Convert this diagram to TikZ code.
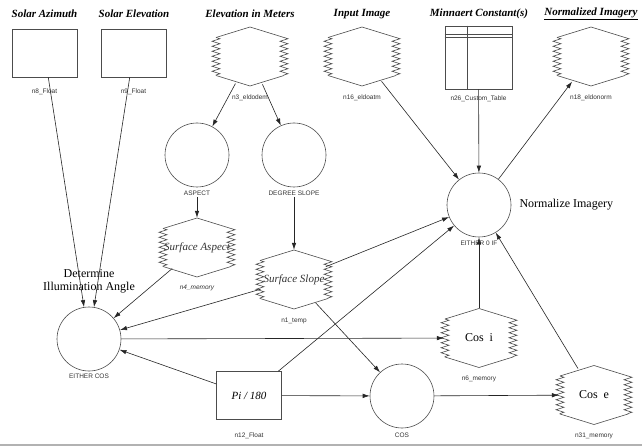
\documentclass[tikz,border=0pt]{standalone}
\usepackage{fontspec}
\setmainfont{Liberation Serif}
\setsansfont{Liberation Sans}
\usepackage{tikz}
\usetikzlibrary{arrows.meta,positioning,calc,shapes.geometric,decorations.pathmorphing}
\newcommand{\memhex}[1]{%
  \begin{scope}[shift={(#1.center)}]
    \draw[outl] (-34,-19) -- (0,-29.5) -- (34,-19);
    \draw[outl] (-34,19) -- (0,29.5) -- (34,19);
    \draw[outl, zz] (-34,-19) -- (-34,19);
    \draw[outl, zz] (34,-19) -- (34,19);
  \end{scope}}
\newcommand{\tabgrid}[1]{%
  \draw[outl] ($(#1.north west)+(0,9)$) -- ($(#1.north east)+(0,9)$);
  \draw[outl] ($(#1.north west)+(0,11.5)$) -- ($(#1.north east)+(0,11.5)$);
  \draw[outl] ($(#1.north west)+(23,0)$) -- ($(#1.south west)+(23,0)$);}

\begin{document}
\begin{tikzpicture}[x=1pt, y=-1pt,
  ttl/.style={font=\fontsize{11}{13}\selectfont\bfseries\itshape},
  lbl/.style={font=\sffamily\fontsize{6.5}{7}\selectfont, inner sep=0pt, text height=5pt, text depth=1.5pt, black!80},
  src/.style={draw=black!70, line width=0.6pt, minimum width=65pt, minimum height=48pt, inner sep=0pt},
  proc/.style={circle, draw=black!70, line width=0.6pt, minimum size=64pt, inner sep=0pt},
  mem/.style={ellipse, minimum width=70pt, minimum height=59pt, inner sep=0pt},
  tbl/.style={draw=black!70, line width=0.6pt, minimum width=67pt, minimum height=63pt, inner sep=0pt},
  memtxt/.style={font=\fontsize{11}{13}\selectfont\itshape, inner sep=0pt, black!80},
  costxt/.style={font=\fontsize{12}{14}\selectfont, inner sep=0pt},
  note/.style={font=\fontsize{12}{13}\selectfont, align=center, inner sep=0pt},
  outl/.style={draw=black!70, line width=0.6pt},
  zz/.style={decorate, decoration={zigzag, segment length=5pt, amplitude=4pt}},
  arr/.style={-{Latex[length=7pt,width=4.5pt]}, black!85, line width=0.6pt}
]
  \fill[white] (0,0) rectangle (642,446);
  \useasboundingbox (0,0) rectangle (642,446);

  \node[src] (azimuth) at (44.5,53) {};
  \node[src] (solarelev) at (133.5,53) {};
  \node[mem] (elevm) at (250,56.5) {};
  \node[mem] (inimg) at (362,56.5) {};
  \node[tbl] (minnaert) at (478.5,57.5) {};
  \node[mem] (normimg) at (591,56.5) {};

  \node[ttl] (azimuthttl) at (44.5,14) {Solar Azimuth};
  \node[ttl] (solarelevttl) at (134,14) {Solar Elevation};
  \node[ttl] (elevmttl) at (250,14) {Elevation in Meters};
  \node[ttl] (inimgttl) at (362,14) {Input Image};
  \node[ttl] (minnaertttl) at (479,14) {Minnaert Constant(s)};
  \node[ttl] (normimgttl) at (591,14) {\underline{Normalized Imagery}};

  \node[lbl, below=10.75pt of azimuth] (azimuthlbl) {n8\_Float};
  \node[lbl, below=10.75pt of solarelev] (solarelevlbl) {n9\_Float};
  \node[lbl, below=7.75pt of elevm] (elevmlbl) {n3\_eldodem};
  \node[lbl, below=7.75pt of inimg] (inimglbl) {n16\_eldoatm};
  \node[lbl, below=5.75pt of minnaert] (minnaertlbl) {n26\_Custom\_Table};
  \node[lbl, below=7.75pt of normimg] (normimglbl) {n18\_eldonorm};

  \node[proc] (aspect) at (197,155) {};
  \node[lbl, below=2.75pt of aspect] (aspectlbl) {ASPECT};
  \node[proc] (dslope) at (294,155) {};
  \node[lbl, below=2.75pt of dslope] (dslopelbl) {DEGREE SLOPE};
  \node[proc] (eitherof) at (479,205) {};
  \node[lbl, below=2.75pt of eitherof] (eitheroflbl) {EITHER 0 IF};
  \node[note, right=8pt of eitherof] (normnote) {Normalize Imagery};

  \node[mem] (saspect) at (197,247.5) {};
  \node[memtxt] (saspecttxt) at (saspect) {Surface Aspect};
  \node[lbl, below=6.75pt of saspect, font=\sffamily\itshape\fontsize{6.5}{7}\selectfont] (saspectlbl) {n4\_memory};
  \node[mem] (sslope) at (294,279.5) {};
  \node[memtxt] (sslopetxt) at (sslope) {Surface Slope};
  \node[lbl, below=7.75pt of sslope] (sslopelbl) {n1\_temp};

  \node[note] (illumnote) at (89,281) {Determine\\Illumination Angle};
  \node[proc] (eithercos) at (89,339) {};
  \node[lbl, below=2pt of eithercos] (eithercoslbl) {EITHER COS};

  \node[src, font=\fontsize{11}{13}\selectfont\itshape] (pi) at (249,395.5) {Pi / 180};
  \node[lbl, below=12.75pt of pi] (pilbl) {n12\_Float};
  \node[proc] (cosn) at (402,396) {};
  \node[lbl, below=3.75pt of cosn] (cosnlbl) {COS};
  \node[mem] (cosi) at (479,338) {};
  \node[costxt] (cositxt) at (cosi) {Cos~~i};
  \node[lbl, below=7.75pt of cosi] (cosilbl) {n6\_memory};
  \node[mem] (cose) at (594,395) {};
  \node[costxt] (cosetxt) at (cose) {Cos~~e};
  \node[lbl, below=7.75pt of cose] (coselbl) {n31\_memory};

  \memhex{elevm}
  \memhex{inimg}
  \memhex{normimg}
  \memhex{saspect}
  \memhex{sslope}
  \memhex{cosi}
  \memhex{cose}
  \tabgrid{minnaert}

  \draw[arr] (azimuth) -- (eithercos);
  \draw[arr] (solarelev) -- (eithercos);
  \draw[arr] (elevm) -- (aspect);
  \draw[arr] (elevm) -- (dslope);
  \draw[arr] (aspectlbl) -- (saspect);
  \draw[arr] (dslopelbl) -- (sslope);
  \draw[arr] (saspect) -- (eithercos);
  \draw[arr] (sslope) -- (eithercos);
  \draw[arr] (sslope) -- (eitherof);
  \draw[arr] (sslope) -- (cosn);
  \draw[arr] (pi) -- (eithercos);
  \draw[arr] (pi) -- (eitherof);
  \draw[arr] (pi) -- (cosn);
  \draw[arr] (eithercos) -- (cosi);
  \draw[arr] (cosn) -- (cose);
  \draw[arr] (cosi) -- (eitherof);
  \draw[arr] (cose) -- (eitherof);
  \draw[arr] (inimg) -- (eitherof);
  \draw[arr] (minnaert) -- (eitherof);
  \draw[arr] (eitherof) -- (normimg);

  \draw[black!30, line width=2pt] (0,445) -- (642,445);
\end{tikzpicture}
\end{document}
